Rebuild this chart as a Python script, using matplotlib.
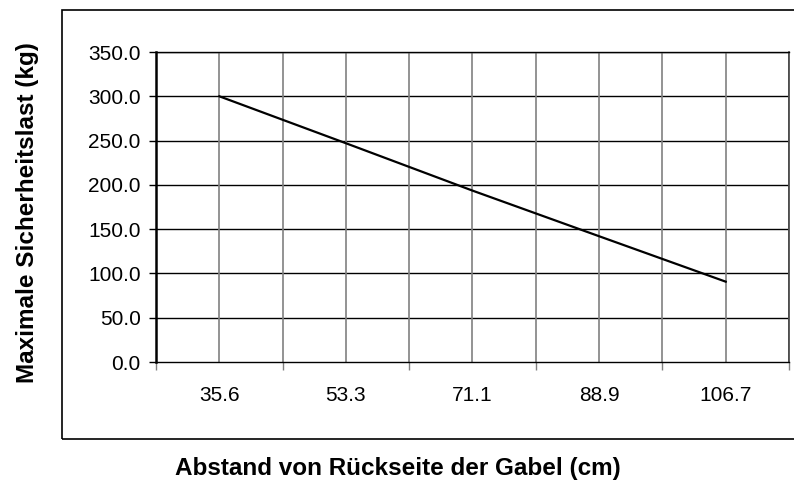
import matplotlib
matplotlib.use("Agg")
import matplotlib.pyplot as plt
from matplotlib.patches import Rectangle
from matplotlib.ticker import FixedLocator, FormatStrFormatter

categories = ["35.6", "53.3", "71.1", "88.9", "106.7"]
values = [300.0, 247.0, 193.5, 142.0, 90.7]
yticks = [0, 50, 100, 150, 200, 250, 300, 350]
xlabel = "Abstand von Rückseite der Gabel (cm)"
ylabel = "Maximale Sicherheitslast (kg)"

plt.rcParams['font.family'] = ['Liberation Sans', 'DejaVu Sans']

W, H = 794, 483
fig = plt.figure(figsize=(W / 100, H / 100), dpi=100)

# outer chart-area border
fig.patches.append(Rectangle((62 / W, 1 - 439 / H), (W + 5 - 62) / W, (439 - 10) / H,
                             transform=fig.transFigure, fill=False,
                             edgecolor='black', linewidth=1.2, clip_on=False))

ax = fig.add_axes([156 / W, 1 - 362 / H, (789 - 156) / W, (362 - 52) / H])
n = len(categories)
xs = list(range(n))
ax.set_xlim(-0.5, n - 0.5)
ax.set_ylim(0, 350)

# gridlines
for y in yticks[1:]:
    ax.axhline(y, color='black', linewidth=1.0, zorder=1)
for i in range(n + 1):
    ax.axvline(i - 0.5, color='#808080', linewidth=1.2, zorder=1)
for x in xs:
    ax.axvline(x, color='#808080', linewidth=1.2, zorder=1)

ax.plot(xs, values, color='black', linewidth=1.6, zorder=3)

ax.set_yticks(yticks)
ax.yaxis.set_major_formatter(FormatStrFormatter('%.1f'))
ax.set_xticks(xs)
ax.set_xticklabels(categories)
ax.xaxis.set_minor_locator(FixedLocator([i - 0.5 for i in range(n + 1)]))
ax.tick_params(axis='x', which='major', length=0, pad=17, labelsize=15)
ax.tick_params(axis='x', which='minor', length=6, width=1.0, color='#808080', direction='out')
ax.tick_params(axis='y', which='major', length=5, width=1.0, direction='out', pad=6, labelsize=15)

for s in ['top', 'bottom']:
    ax.spines[s].set_linewidth(1.0)
    ax.spines[s].set_color('black')
ax.spines['left'].set_linewidth(1.8)
ax.spines['left'].set_color('black')
ax.spines['right'].set_linewidth(1.2)
ax.spines['right'].set_color('#404040')

fig.text(398 / W, 1 - 468 / H, xlabel, ha='center', va='center',
         fontsize=17.5, fontweight='bold')
fig.text(28 / W, 1 - 213 / H, ylabel, ha='center', va='center',
         rotation=90, fontsize=17.5, fontweight='bold')

fig.savefig('out.png', dpi=100)
